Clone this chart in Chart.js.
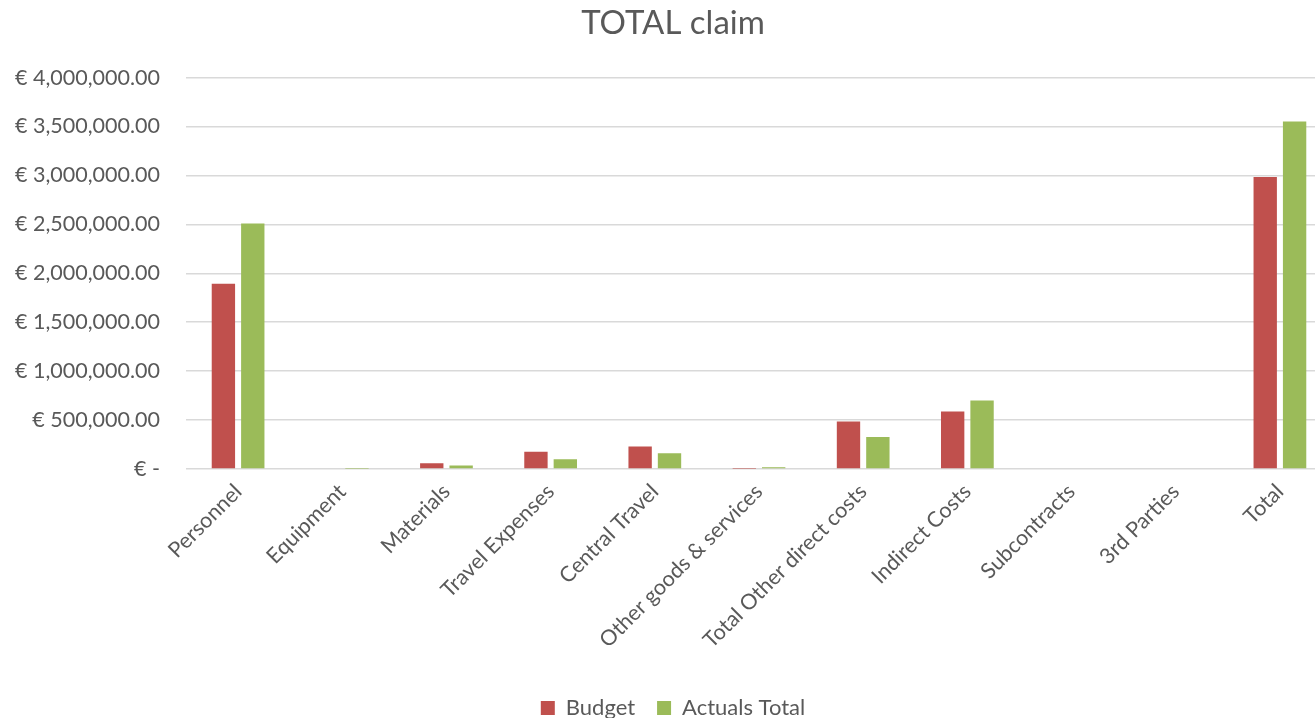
<!DOCTYPE html>
<html>
<head>
<meta charset="utf-8">
<script src="https://cdn.jsdelivr.net/npm/chart.js@4/dist/chart.umd.min.js"></script>
<style>
  html, body { margin: 0; padding: 0; background: #fff; overflow: hidden; }
  /* Diagramm ist etwas breiter als das Fenster, rechter Rand wird abgeschnitten */
  #wrap { width: 1352px; height: 718px; }
</style>
</head>
<body>
<div id="wrap"><canvas id="claimChart"></canvas></div>
<script>
// Kategorien und Werte
const categories = ['Personnel', 'Equipment', 'Materials', 'Travel Expenses', 'Central Travel',
    'Other goods & services', 'Total Other direct costs', 'Indirect Costs', 'Subcontracts',
    '3rd Parties', 'Total'];
const budget = [1894000, 0, 58000, 177000, 231000, 2000, 486000, 587000, 0, 0, 2984000];
const actualsTotal = [2510000, 3000, 35000, 99000, 160000, 17000, 326000, 699000, 0, 0, 3551000];
const yTicks = [0, 500000, 1000000, 1500000, 2000000, 2500000, 3000000, 3500000, 4000000];

const FONT = 'Lato, "Open Sans", sans-serif';
const GREY = '#595959';

function euro(v) {
    if (v === 0) return '€ -';
    return '€ ' + v.toLocaleString('en-US', { minimumFractionDigits: 2, maximumFractionDigits: 2 });
}

new Chart(document.getElementById('claimChart'), {
    type: 'bar',
    data: {
        labels: categories,
        datasets: [
            {
                label: 'Budget',
                data: budget,
                backgroundColor: '#C0504D',
                categoryPercentage: 0.564,
                barPercentage: 0.795
            },
            {
                label: 'Actuals Total',
                data: actualsTotal,
                backgroundColor: '#9BBB59',
                categoryPercentage: 0.564,
                barPercentage: 0.795
            }
        ]
    },
    options: {
        responsive: true,
        maintainAspectRatio: false,
        animation: false,
        layout: { padding: { top: 4, left: 14, right: 20, bottom: -11 } },
        plugins: {
            title: {
                display: true,
                text: 'TOTAL claim',
                color: GREY,
                font: { family: FONT, size: 33, weight: 'normal' },
                padding: { top: 0, bottom: 34 }
            },
            legend: {
                position: 'bottom',
                labels: {
                    color: GREY,
                    font: { family: FONT, size: 22 },
                    boxWidth: 14,
                    boxHeight: 14,
                    padding: 22
                }
            },
            tooltip: { enabled: false }
        },
        scales: {
            x: {
                grid: { display: false },
                border: { display: false },
                afterFit: (axis) => { axis.height = 206; },
                ticks: {
                    color: GREY,
                    font: { family: FONT, size: 21.5 },
                    maxRotation: 45,
                    minRotation: 45,
                    autoSkip: false,
                    padding: 2
                }
            },
            y: {
                min: 0,
                max: 4000000,
                border: { display: false },
                grid: { color: '#d9d9d9', lineWidth: 1.5, drawTicks: false },
                // feste Breite der Y-Achse, damit die Plotfläche bei x≈186 beginnt
                afterFit: (axis) => { axis.width = 172; },
                afterBuildTicks: (axis) => { axis.ticks = yTicks.map(v => ({ value: v })); },
                ticks: {
                    color: GREY,
                    font: { family: FONT, size: 21.5 },
                    padding: 26,
                    callback: (v) => euro(v)
                }
            }
        }
    }
});
</script>
</body>
</html>
